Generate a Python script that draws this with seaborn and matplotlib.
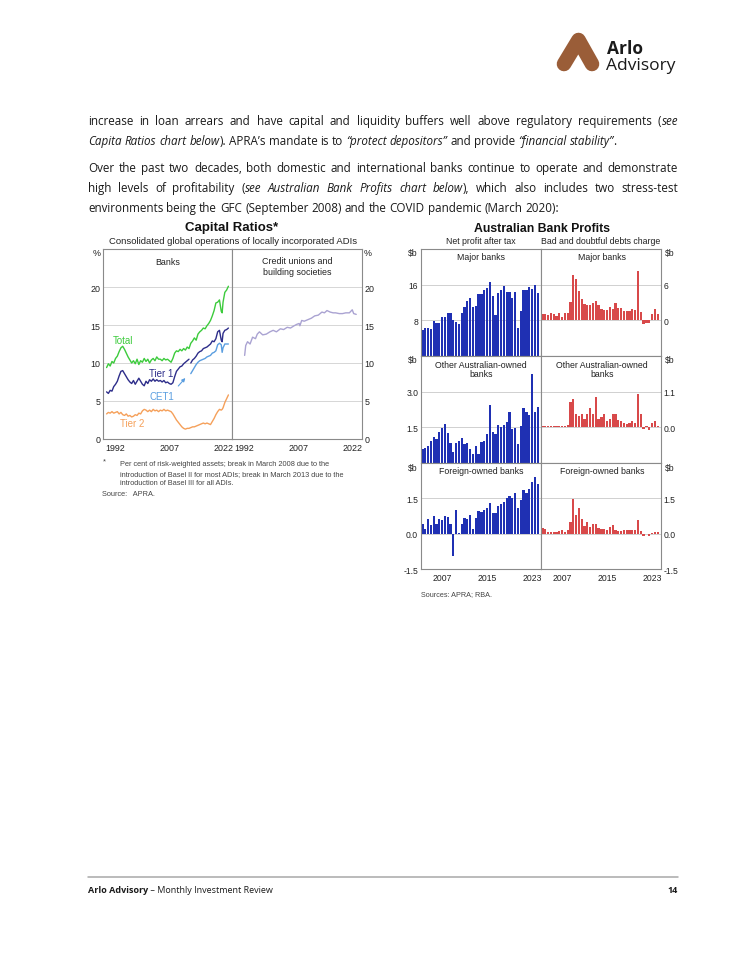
import numpy as np
import pandas as pd
import seaborn as sns
import matplotlib.pyplot as plt
from matplotlib.lines import Line2D

# ---- Capital ratios data (per cent of risk-weighted assets) ----
total_yr = [1989.5, 1990.0, 1990.5, 1991.0, 1991.5, 1992.0, 1992.5, 1993.0, 1993.5, 1994.0,
            1994.5, 1995.0, 1995.5, 1996.0, 1996.5, 1997.0, 1997.5, 1998.0, 1998.5, 1999.0,
            1999.5, 2000.0, 2000.5, 2001.0, 2001.5, 2002.0, 2002.5, 2003.0, 2003.5, 2004.0,
            2004.5, 2005.0, 2005.5, 2006.0, 2006.5, 2007.0, 2007.5, 2008.0, 2008.5, 2009.0,
            2009.5, 2010.0, 2010.5, 2011.0, 2011.5, 2012.0, 2012.5, 2013.0, 2013.5, 2014.0,
            2014.5, 2015.0, 2015.5, 2016.0, 2016.5, 2017.0, 2017.5, 2018.0, 2018.5, 2019.0,
            2019.5, 2020.0, 2020.5, 2021.0, 2021.5, 2021.75, 2022.0, 2022.5, 2023.0, 2023.5]
total = [9.4, 9.9, 9.6, 10.2, 10.0, 10.6, 10.9, 11.5, 12.0, 12.2,
         11.8, 11.3, 10.8, 10.4, 10.0, 10.3, 9.9, 10.5, 9.8, 10.3,
         10.1, 10.6, 10.2, 10.5, 10.0, 10.4, 10.6, 10.3, 10.8, 10.5,
         10.5, 10.3, 10.6, 10.4, 10.5, 10.3, 10.1, 10.6, 11.3, 11.6,
         11.5, 11.8, 11.6, 11.9, 11.7, 12.1, 11.9, 12.6, 12.9, 13.3,
         13.0, 13.8, 14.1, 14.3, 14.6, 14.5, 14.9, 15.2, 15.6, 16.2,
         16.9, 17.9, 18.0, 18.3, 16.8, 16.6, 18.0, 19.3, 19.6, 20.1]

tier1_yr_a = [1989.5, 1990.0, 1990.5, 1991.0, 1991.5, 1992.0, 1992.5, 1993.0, 1993.5, 1994.0,
              1994.5, 1995.0, 1995.5, 1996.0, 1996.5, 1997.0, 1997.5, 1998.0, 1998.5, 1999.0,
              1999.5, 2000.0, 2000.5, 2001.0, 2001.5, 2002.0, 2002.5, 2003.0, 2003.5, 2004.0,
              2004.5, 2005.0, 2005.5, 2006.0, 2006.5, 2007.0, 2007.5, 2008.0, 2008.5, 2009.0,
              2009.5, 2010.0, 2010.5, 2011.0, 2011.5, 2012.0, 2012.5]
tier1_a = [6.2, 6.0, 6.4, 6.3, 6.9, 7.2, 7.6, 8.3, 8.9, 9.0,
           8.6, 8.2, 7.8, 7.5, 7.3, 7.7, 7.2, 7.6, 8.0, 7.6,
           7.2, 7.0, 7.6, 7.3, 7.8, 7.6, 7.9, 7.6, 7.8, 7.6,
           7.7, 7.5, 7.7, 7.4, 7.5, 7.3, 7.2, 7.4, 8.2, 8.9,
           9.2, 9.5, 9.6, 9.9, 10.1, 10.3, 10.5]
tier1_yr_b = [2013.0, 2013.5, 2014.0, 2014.5, 2015.0, 2015.5, 2016.0, 2016.5, 2017.0, 2017.5,
              2018.0, 2018.5, 2019.0, 2019.5, 2020.0, 2020.5, 2021.0, 2021.5, 2021.75, 2022.0,
              2022.5, 2023.0, 2023.5]
tier1_b = [10.0, 10.4, 10.6, 10.9, 11.3, 11.5, 11.6, 11.9, 12.0, 12.1,
           12.3, 12.5, 12.9, 12.8, 13.2, 14.1, 14.3, 13.0, 12.8, 13.9,
           14.3, 14.4, 14.6]

cet1_yr = [2013.0, 2013.5, 2014.0, 2014.5, 2015.0, 2015.5, 2016.0, 2016.5, 2017.0, 2017.5,
           2018.0, 2018.5, 2019.0, 2019.5, 2020.0, 2020.5, 2021.0, 2021.5, 2021.75, 2022.0,
           2022.5, 2023.0, 2023.5]
cet1 = [8.6, 9.0, 9.4, 9.8, 10.1, 10.3, 10.4, 10.5, 10.6, 10.8,
        10.9, 11.0, 11.3, 11.4, 11.6, 12.4, 12.6, 12.4, 11.4, 12.0,
        12.5, 12.5, 12.5]

tier2 = [3.3, 3.5, 3.4, 3.6, 3.4, 3.5, 3.6, 3.3, 3.5, 3.2,
         3.1, 3.3, 3.0, 3.1, 2.9, 3.0, 3.2, 3.1, 3.4, 3.3,
         3.7, 3.9, 3.8, 3.6, 3.8, 3.6, 3.9, 3.7, 3.8, 3.6,
         3.8, 3.7, 3.9, 3.7, 3.8, 3.7, 3.6, 3.3, 2.9, 2.5,
         2.2, 1.9, 1.6, 1.4, 1.3, 1.4, 1.4, 1.5, 1.6, 1.6,
         1.7, 1.8, 1.9, 2.0, 2.1, 2.0, 2.1, 2.0, 1.9, 2.3,
         2.7, 3.2, 3.6, 3.9, 3.8, 3.9, 4.1, 4.8, 5.3, 5.8]

cu_yr = [1992.0, 1992.3, 1992.8, 1993.5, 1994.2, 1995.0, 1995.5, 1996.1, 1997.0, 1998.0,
         1999.0, 1999.9, 2000.8, 2001.9, 2002.8, 2003.8, 2004.7, 2005.7, 2006.5, 2007.1,
         2007.3, 2007.8, 2008.5, 2009.5, 2010.5, 2011.4, 2012.4, 2013.4, 2014.1, 2014.8,
         2015.7, 2016.5, 2017.2, 2018.2, 2019.1, 2020.0, 2021.0, 2021.8, 2022.2, 2022.9]
cu_total = [11.0, 12.3, 12.8, 12.5, 13.4, 13.2, 13.8, 14.1, 13.7, 13.8,
            14.1, 14.3, 14.1, 14.5, 14.4, 14.7, 14.6, 14.9, 15.1, 15.2,
            14.9, 15.6, 15.5, 15.7, 15.9, 16.2, 16.3, 16.7, 16.6, 16.9,
            16.7, 16.6, 16.6, 16.5, 16.5, 16.6, 16.6, 17.0, 16.5, 16.4]

# ---- Bank profits data ($b, half-yearly) ----
periods = np.arange(2003.5, 2024.01, 0.5)
major_npat = [5.9, 6.2, 6.3, 6.0, 7.9, 7.4, 7.4, 8.8, 8.8, 9.6,
              9.6, 8.0, 7.7, 7.1, 9.7, 10.9, 12.3, 12.9, 10.9, 11.2,
              13.9, 13.9, 14.7, 15.3, 16.5, 13.5, 9.3, 14.2, 14.8, 15.6,
              14.3, 14.3, 13.0, 14.3, 6.3, 10.2, 14.7, 14.7, 15.5, 15.1,
              16.0, 14.2]
major_bdd = [1.0, 1.0, 0.9, 1.25, 1.0, 0.75, 1.25, 0.6, 1.2, 1.3,
             3.1, 7.7, 7.0, 5.0, 3.6, 2.7, 2.5, 2.6, 2.9, 3.2,
             2.5, 1.9, 1.7, 1.7, 2.2, 1.9, 2.9, 2.1, 2.1, 1.6,
             1.6, 1.6, 1.9, 1.7, 8.3, 1.4, -0.6, -0.4, -0.4, 1.0,
             1.9, 1.0]
other_npat = [0.59, 0.62, 0.73, 0.94, 1.08, 1.01, 1.32, 1.46, 1.64, 1.25,
              0.83, 0.45, 0.83, 0.94, 1.05, 0.80, 0.83, 0.59, 0.38, 0.73,
              0.38, 0.90, 0.91, 1.22, 2.44, 1.32, 1.22, 1.61, 1.50, 1.61,
              1.71, 2.16, 1.43, 1.47, 0.80, 1.57, 2.30, 2.16, 2.02, 3.74,
              2.16, 2.34]
other_bdd = [0.05, 0.05, 0.05, 0.05, 0.05, 0.04, 0.04, 0.04, 0.04, 0.06,
             0.79, 0.87, 0.40, 0.35, 0.40, 0.26, 0.40, 0.60, 0.40, 0.93,
             0.26, 0.32, 0.40, 0.21, 0.26, 0.40, 0.40, 0.24, 0.21, 0.14,
             0.10, 0.14, 0.19, 0.14, 1.03, 0.40, -0.04, 0.03, -0.07, 0.14,
             0.21, 0.03]
foreign_npat = [0.43, 0.21, 0.64, 0.36, 0.74, 0.43, 0.64, 0.57, 0.74, 0.69,
                0.43, -0.93, 1.00, 0.04, 0.43, 0.67, 0.61, 0.79, 0.21, 0.67,
                0.96, 0.93, 1.00, 1.07, 1.29, 0.86, 0.86, 1.19, 1.26, 1.36,
                1.50, 1.61, 1.53, 1.74, 1.10, 1.43, 1.86, 1.71, 1.89, 2.21,
                2.39, 2.10]
foreign_bdd = [0.24, 0.19, 0.07, 0.07, 0.07, 0.07, 0.10, 0.14, 0.07, 0.17,
               0.50, 1.46, 0.79, 1.11, 0.64, 0.31, 0.50, 0.29, 0.43, 0.40,
               0.24, 0.21, 0.21, 0.17, 0.29, 0.36, 0.17, 0.10, 0.10, 0.14,
               0.14, 0.17, 0.17, 0.17, 0.57, 0.10, -0.10, 0.00, -0.10, 0.04,
               0.07, 0.07]

sns.set_style("white")
plt.rcParams['font.family'] = ['Liberation Sans', 'DejaVu Sans']

W, H = 750, 970
fig = plt.figure(figsize=(W / 100, H / 100), dpi=100)
renderer = fig.canvas.get_renderer()


def px_axes(x0, y0, x1, y1):
    return fig.add_axes([x0 / W, 1 - y1 / H, (x1 - x0) / W, (y1 - y0) / H])


def ptext(x, y, s, **kw):
    return fig.text(x / W, 1 - y / H, s, **kw)


def measure(s, **kw):
    t = fig.text(0, 0, s, **kw)
    w = t.get_window_extent(renderer=renderer).width
    t.remove()
    return w


PAGE_FONT = ['Open Sans', 'DejaVu Sans']
BODY = dict(family=PAGE_FONT, size=8.4, color='#1a1a1a')


def draw_line(segs, y, justify=True, x0=88, x1=678):
    # split into words (pieces keep their own style), then spread them over the column
    words = [[]]
    for txt, ital in segs:
        for i, part in enumerate(txt.split(' ')):
            if i > 0:
                words.append([])
            if part:
                words[-1].append((part, ital))
    words = [w for w in words if w]
    widths = [[measure(p, style='italic' if it else 'normal', **BODY) for p, it in w] for w in words]
    used = sum(sum(ws) for ws in widths)
    natural = measure('a a', **BODY) - measure('aa', **BODY)
    gap = (x1 - x0 - used) / (len(words) - 1) if justify else natural
    x = x0
    for w, ws in zip(words, widths):
        for (p, it), pw in zip(w, ws):
            ptext(x, y, p, style='italic' if it else 'normal', va='baseline', ha='left', **BODY)
            x += pw
        x += gap


# ---- logo ----
fig.add_artist(Line2D([564 / W, 578.5 / W, 592 / W], [1 - 65 / H, 1 - 41 / H, 1 - 65 / H],
                      lw=10.5, color='#9a5d38', solid_capstyle='round', solid_joinstyle='round'))
ptext(607, 54, 'Arlo', family=PAGE_FONT, weight='bold', size=12.5, color='#1a1a1a', va='baseline')
ptext(606, 70, 'Advisory', family=PAGE_FONT, size=12.5, color='#1a1a1a', va='baseline')

# ---- body text ----
draw_line([("increase in loan arrears and have capital and liquidity buffers well above regulatory requirements (", False),
           ("see", True)], 125)
draw_line([("Capita Ratios chart below", True), ("). APRA’s mandate is to ", False), ("“protect depositors”", True),
           (" and provide ", False), ("“financial stability”", True), (".", False)], 145, justify=False)
draw_line([("Over the past two decades, both domestic and international banks continue to operate and demonstrate", False)], 172)
draw_line([("high levels of profitability (", False), ("see Australian Bank Profits chart below", True),
           ("), which also includes two stress-test", False)], 192)
draw_line([("environments being the GFC (September 2008) and the COVID pandemic (March 2020):", False)], 212, justify=False)

# ---- Capital Ratios chart ----
GREEN, NAVY, LBLUE, ORANGE, LAV = '#3ccb3c', '#2d2d8a', '#5a9ee0', '#f5a05a', '#aaa3d2'
TXT = '#222222'
axL = px_axes(103, 250, 232, 440)
axR = px_axes(232, 250, 362, 440)
sns.lineplot(x=total_yr, y=total, ax=axL, color=GREEN, lw=1)
sns.lineplot(x=tier1_yr_a, y=tier1_a, ax=axL, color=NAVY, lw=1)
sns.lineplot(x=tier1_yr_b, y=tier1_b, ax=axL, color=NAVY, lw=1)
sns.lineplot(x=cet1_yr, y=cet1, ax=axL, color=LBLUE, lw=1)
sns.lineplot(x=total_yr, y=tier2, ax=axL, color=ORANGE, lw=1)
sns.lineplot(x=cu_yr, y=cu_total, ax=axR, color=LAV, lw=1)

for ax in (axL, axR):
    ax.set_xlim(1988.5, 2024.5)
    ax.set_ylim(0, 25)
    ax.set_yticks([0, 5, 10, 15, 20])
    ax.set_yticklabels(['0', '5', '10', '15', '20'])
    ax.grid(axis='y', color='#d6d6d6', lw=0.7)
    ax.set_axisbelow(True)
    ax.set_xticks([1992, 2007, 2022])
    ax.set_xticks(range(1989, 2025), minor=True)
    ax.tick_params(axis='x', which='both', direction='in', length=3, width=0.6, color='#777777',
                   labelsize=6.4, labelcolor=TXT, pad=3)
    ax.tick_params(axis='y', length=0, labelsize=6.4, labelcolor=TXT, pad=2)
    ax.set_xlabel('')
    ax.set_ylabel('')
    for s in ax.spines.values():
        s.set_color('#8a8a8a')
        s.set_linewidth(0.8)
axR.yaxis.tick_right()
axR.tick_params(axis='y', labelright=True, labelleft=False, pad=2)

axL.text(1994.0, 13.0, 'Total', color=GREEN, size=7, ha='center', va='center')
axL.text(2004.6, 8.7, 'Tier 1', color=NAVY, size=7, ha='center', va='center')
axL.text(2005.0, 5.7, 'CET1', color=LBLUE, size=7, ha='center', va='center')
axL.text(1996.6, 2.1, 'Tier 2', color=ORANGE, size=7, ha='center', va='center')
axL.annotate('', xy=(2012.0, 8.3), xytext=(2009.0, 6.7),
             arrowprops=dict(arrowstyle='-|>', color=LBLUE, lw=0.8, mutation_scale=5))

ptext(232, 228, 'Capital Ratios*', ha='center', va='center', weight='bold', size=9.5, color='#111111')
ptext(233, 241, 'Consolidated global operations of locally incorporated ADIs', ha='center', va='center',
      size=6.8, color=TXT)
ptext(101, 254, '%', ha='right', va='center', size=6.4, color=TXT)
ptext(364, 254, '%', ha='left', va='center', size=6.4, color=TXT)
ptext(168, 263, 'Banks', ha='center', va='center', size=6.4, color=TXT)
ptext(297, 267, 'Credit unions and\nbuilding societies', ha='center', va='center', size=6.4, color=TXT,
      linespacing=1.15)

NOTE = dict(size=5.3, color='#444444', va='center')
ptext(103, 462, '*', **NOTE)
ptext(120, 465, 'Per cent of risk-weighted assets; break in March 2008 due to the', **NOTE)
ptext(120, 474.5, 'introduction of Basel II for most ADIs; break in March 2013 due to the', **NOTE)
ptext(120, 484, 'introduction of Basel III for all ADIs.', **NOTE)
ptext(102, 494.5, 'Source:   APRA.', **NOTE)

# ---- Australian Bank Profits chart ----
BLUE, RED = '#1f30b3', '#d8494a'
rows = [
    (250, 357, major_npat, major_bdd, 'Major banks'),
    (357, 464, other_npat, other_bdd, 'Other Australian-owned\nbanks'),
    (464, 570, foreign_npat, foreign_bdd, 'Foreign-owned banks'),
]
left_lims = [(0, 24), (0, 4.5), (-1.5, 3.0)]
right_lims = [(-6, 12), (-1.1, 2.2), (-1.5, 3.0)]
left_ticks = [([8, 16], ['8', '16']), ([1.5, 3.0], ['1.5', '3.0']), ([-1.5, 0, 1.5], ['-1.5', '0.0', '1.5'])]
right_ticks = [([0, 6], ['0', '6']), ([0, 1.1], ['0.0', '1.1']), ([-1.5, 0, 1.5], ['-1.5', '0.0', '1.5'])]

for r, (top, bot, npat, bdd, label) in enumerate(rows):
    bl = px_axes(421, top, 541, bot)
    br = px_axes(541, top, 661, bot)
    sns.barplot(x=periods, y=npat, native_scale=True, color=BLUE, saturation=1, width=0.8,
                errorbar=None, linewidth=0, ax=bl)
    sns.barplot(x=periods, y=bdd, native_scale=True, color=RED, saturation=1, width=0.8,
                errorbar=None, linewidth=0, ax=br)
    for ax, lims, (tk, tl) in ((bl, left_lims[r], left_ticks[r]), (br, right_lims[r], right_ticks[r])):
        ax.set_xlim(2003.25, 2024.6)
        ax.set_ylim(*lims)
        ax.set_yticks(tk)
        ax.set_yticklabels(tl)
        ax.grid(axis='y', color='#d0d0d0', lw=0.7)
        ax.set_axisbelow(True)
        ax.tick_params(axis='y', length=0, labelsize=6.2, labelcolor=TXT, pad=2)
        ax.set_xlabel('')
        ax.set_ylabel('')
        for s in ax.spines.values():
            s.set_color('#8a8a8a')
            s.set_linewidth(0.8)
        if r == 2:
            ax.set_xticks([2007, 2015, 2023])
            ax.set_xticks(range(2004, 2025), minor=True)
            ax.tick_params(axis='x', which='both', direction='in', length=3, width=0.6, color='#777777',
                           labelsize=6.2, labelcolor=TXT, pad=3)
        else:
            ax.set_xticks([])
            ax.set_xticks([], minor=True)
    br.yaxis.tick_right()
    br.tick_params(axis='y', labelright=True, labelleft=False)
    ty = top + (13 if r == 1 else 8)
    ptext(481, ty, label, ha='center', va='center', size=6.3, color=TXT, linespacing=1.1)
    ptext(602, ty, label, ha='center', va='center', size=6.3, color=TXT, linespacing=1.1)
    ptext(418, top + 4, '$b', ha='right', va='center', size=6.2, color=TXT)
    ptext(665, top + 4, '$b', ha='left', va='center', size=6.2, color=TXT)

ptext(542, 228.5, 'Australian Bank Profits', ha='center', va='center', weight='bold', size=8.8, color='#111111')
ptext(481, 241.5, 'Net profit after tax', ha='center', va='center', size=6.3, color=TXT)
ptext(601, 241.5, 'Bad and doubtful debts charge', ha='center', va='center', size=6.3, color=TXT)
ptext(421, 595, 'Sources: APRA; RBA.', ha='left', va='center', size=5.2, color='#444444')

# ---- footer ----
fig.add_artist(Line2D([88 / W, 678 / W], [1 - 878 / H, 1 - 878 / H], lw=1.1, color='#a8a8a8'))
FOOT = dict(family=PAGE_FONT, size=6.5, color='#1a1a1a', va='baseline')
ptext(88, 893, 'Arlo Advisory', weight='bold', **FOOT)
bw = measure('Arlo Advisory', weight='bold', family=PAGE_FONT, size=FOOT['size'])
ptext(88 + bw, 893, ' – Monthly Investment Review', **FOOT)
ptext(678, 893, '14', weight='bold', ha='right', **FOOT)

fig.savefig('out.png', dpi=100)
